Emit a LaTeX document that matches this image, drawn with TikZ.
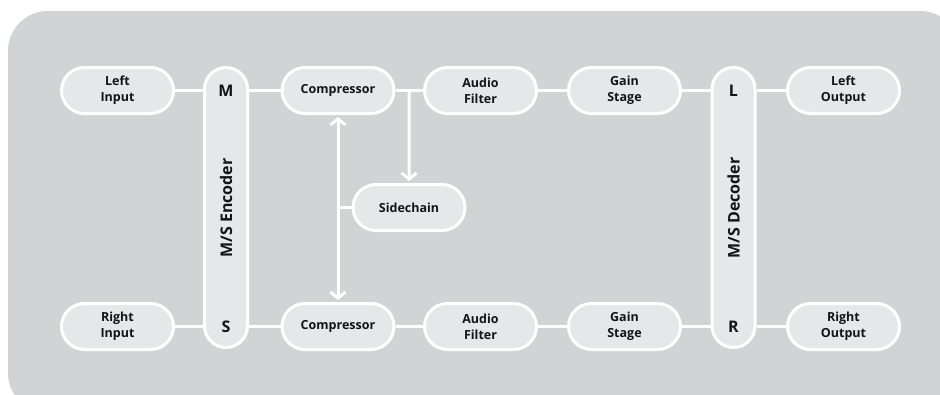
\documentclass[tikz,border=0pt]{standalone}
\usepackage{fontspec}
\setmainfont{Open Sans}
\usepackage{tikz}
\usetikzlibrary{arrows.meta,calc,positioning}
\definecolor{panelgray}{RGB}{209,211,212}
\definecolor{boxgray}{RGB}{230,231,232}
\definecolor{inkblack}{RGB}{20,20,20}
\tikzstyle{Bstate}=[shape=rectangle,draw=white,line width=3pt,fill=boxgray,minimum width=112pt,minimum height=46pt,rounded corners=23pt,inner sep=0pt,align=center,text=inkblack,font=\fontsize{12.5}{16}\selectfont\bfseries]
\tikzstyle{Vstate}=[shape=rectangle,draw=white,line width=3pt,fill=boxgray,minimum width=43pt,minimum height=280pt,rounded corners=21.5pt]
\tikzstyle{bigletter}=[text=inkblack,font=\fontsize{16}{18}\selectfont\bfseries,inner sep=0pt]
\tikzstyle{wireedge}=[draw=white,line width=3pt]
\tikzstyle{arrowedge}=[wireedge,-{Straight Barb[length=6pt,width=15pt]},shorten >=2pt]
\tikzstyle{twowayedge}=[wireedge,{Straight Barb[length=6pt,width=15pt]}-{Straight Barb[length=6pt,width=15pt]},shorten >=2pt,shorten <=2pt]

\begin{document}
\begin{tikzpicture}[x=1pt,y=-1pt]
\useasboundingbox (0,0) rectangle (940,394);
\fill[panelgray,rounded corners=40pt] (8,11) rectangle (960,413);

%encoder and decoder bars
\node[Vstate] (enc) at (226,207.5){};
\node[bigletter] (encM) at (226,90.5){M};
\node[bigletter] (encS) at (226,326.5){S};
\node[bigletter,rotate=90] (encT) at (226,208){M/S Encoder};

\node[Vstate] (dec) at (733.5,207.5){};
\node[bigletter] (decL) at (733.5,90.5){L};
\node[bigletter] (decR) at (733.5,326.5){R};
\node[bigletter,rotate=90] (decT) at (733.5,208){M/S Decoder};

%upper chain
\node[Bstate] (linp) at (117.5,90.5){Left\\Input};
\node[Bstate] (cmpT) at (338,90.5){Compressor};
\node[Bstate] (fltT) at (480.5,90.5){Audio\\Filter};
\node[Bstate] (gainT) at (624.5,90.5){Gain\\Stage};
\node[Bstate] (loutp) at (843.5,90.5){Left\\Output};

%lower chain
\node[Bstate] (rinp) at (117.5,326.5){Right\\Input};
\node[Bstate] (cmpB) at (338,326.5){Compressor};
\node[Bstate] (fltB) at (480.5,326.5){Audio\\Filter};
\node[Bstate] (gainB) at (624.5,326.5){Gain\\Stage};
\node[Bstate] (routp) at (843.5,326.5){Right\\Output};

\node[Bstate] (sc) at (409,207.5){Sidechain};
\coordinate (split) at ($(cmpT.east)!0.5!(fltT.west)$);

 \path
(linp) edge [wireedge] (linp -| enc.west)
(cmpT) edge [wireedge] (cmpT -| enc.east)
(cmpT) edge [wireedge] (fltT)
(fltT) edge [wireedge] (gainT)
(gainT) edge [wireedge] (gainT -| dec.west)
(loutp) edge [wireedge] (loutp -| dec.east)

(rinp) edge [wireedge] (rinp -| enc.west)
(cmpB) edge [wireedge] (cmpB -| enc.east)
(cmpB) edge [wireedge] (fltB)
(fltB) edge [wireedge] (gainB)
(gainB) edge [wireedge] (gainB -| dec.west)
(routp) edge [wireedge] (routp -| dec.east)

(split) edge [arrowedge] (sc)
(cmpT) edge [twowayedge] (cmpB)
(sc) edge [wireedge] (sc -| cmpT)
;

\end{tikzpicture}
\end{document}
